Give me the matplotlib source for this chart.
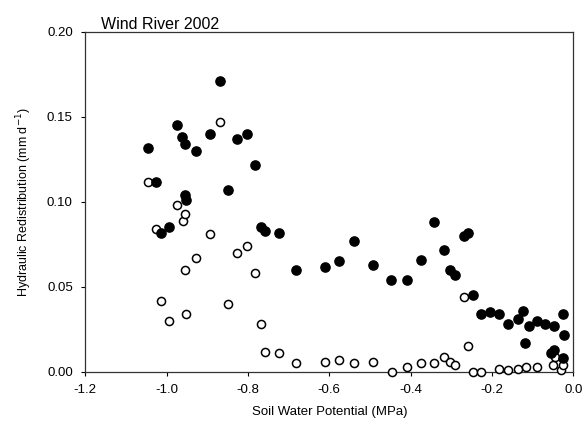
"""
Hydraulic redistribution vs soil water potential, Wind River 2002.
Filled circles and open circles are the two measured series.
"""

import matplotlib
matplotlib.use("Agg")
import matplotlib.pyplot as plt

plt.rcParams["font.family"] = ["Liberation Sans", "DejaVu Sans"]

# ---------------------------------------------------------------------------
# Data
# ---------------------------------------------------------------------------

filledPsi = [-1.045, -1.026, -1.013, -0.993, -0.975, -0.963, -0.955, -0.955,
             -0.952, -0.928, -0.893, -0.869, -0.848, -0.828, -0.803, -0.782,
             -0.768, -0.757, -0.723, -0.682, -0.611, -0.577, -0.540, -0.492,
             -0.448, -0.410, -0.374, -0.343, -0.317, -0.304, -0.290, -0.269,
             -0.259, -0.247, -0.228, -0.204, -0.183, -0.160, -0.137, -0.124,
             -0.118, -0.110, -0.090, -0.070, -0.055, -0.048, -0.047, -0.026,
             -0.026, -0.022]
filledHR = [0.132, 0.112, 0.082, 0.085, 0.145, 0.138, 0.134, 0.104,
            0.101, 0.130, 0.140, 0.171, 0.107, 0.137, 0.140, 0.122,
            0.085, 0.083, 0.082, 0.060, 0.062, 0.065, 0.077, 0.063,
            0.054, 0.054, 0.066, 0.088, 0.072, 0.060, 0.057, 0.080,
            0.082, 0.045, 0.034, 0.035, 0.034, 0.028, 0.031, 0.036,
            0.017, 0.027, 0.030, 0.028, 0.011, 0.013, 0.027, 0.034,
            0.008, 0.022]

openPsi = [-1.045, -1.026, -1.013, -0.993, -0.975, -0.960, -0.954, -0.954,
           -0.952, -0.928, -0.893, -0.869, -0.848, -0.826, -0.803, -0.783,
           -0.768, -0.757, -0.723, -0.682, -0.611, -0.577, -0.540, -0.492,
           -0.447, -0.410, -0.374, -0.343, -0.317, -0.304, -0.290, -0.269,
           -0.258, -0.247, -0.228, -0.183, -0.160, -0.137, -0.116, -0.090,
           -0.049, -0.045, -0.030, -0.026]
openHR = [0.112, 0.084, 0.042, 0.030, 0.098, 0.089, 0.093, 0.060,
          0.034, 0.067, 0.081, 0.147, 0.040, 0.070, 0.074, 0.058,
          0.028, 0.012, 0.011, 0.005, 0.006, 0.007, 0.005, 0.006,
          0.000, 0.003, 0.005, 0.005, 0.009, 0.006, 0.004, 0.044,
          0.015, 0.000, 0.000, 0.002, 0.001, 0.002, 0.003, 0.003,
          0.004, 0.009, 0.001, 0.004]

xTicks = [-1.2, -1.0, -0.8, -0.6, -0.4, -0.2, 0.0]
yTicks = [0.00, 0.05, 0.10, 0.15, 0.20]


def main():
    fig = plt.figure(figsize=(5.88, 4.32), dpi=100)
    ax = fig.add_axes([0.145, 0.139, 0.830, 0.787])

    ax.scatter(openPsi, openHR, s=34, facecolors="white", edgecolors="black",
               linewidths=1.1, zorder=3, clip_on=False)
    ax.scatter(filledPsi, filledHR, s=44, color="black", zorder=4, clip_on=False)

    ax.set_xlim(-1.2, 0.0)
    ax.set_ylim(0.0, 0.20)
    ax.set_xticks(xTicks)
    ax.set_xticklabels([f"{t:.1f}" for t in xTicks])
    ax.set_yticks(yTicks)
    ax.set_yticklabels([f"{t:.2f}" for t in yTicks])
    ax.tick_params(direction="out", length=3, width=0.8, labelsize=9.5, pad=6)

    for spine in ax.spines.values():
        spine.set_linewidth(0.9)
        spine.set_color("#333333")

    ax.set_xlabel("Soil Water Potential (MPa)", fontsize=9.5, labelpad=7)
    ax.set_ylabel("Hydraulic Redistribution (mm d$^{-1}$)", fontsize=9, labelpad=9)
    ax.set_title("Wind River 2002", fontsize=11.5, loc="left", pad=1, x=0.032)

    fig.savefig("out.png", dpi=100)


if __name__ == "__main__":
    main()
